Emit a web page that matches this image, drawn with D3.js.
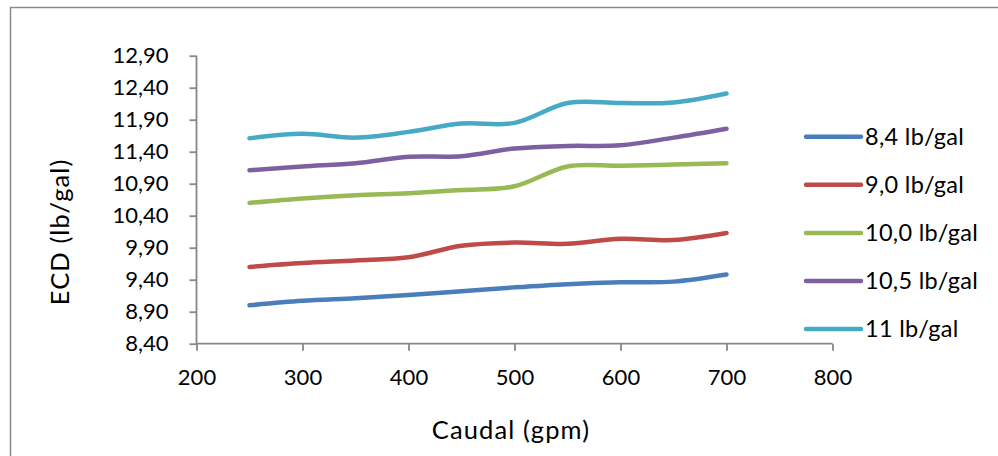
<!DOCTYPE html>
<html>
<head>
<meta charset="utf-8">
<script src="https://cdn.jsdelivr.net/npm/d3@7/dist/d3.min.js"></script>
<style>
  html, body { margin: 0; padding: 0; background: #fff; }
  svg { display: block; }
  text { font-family: Lato, "Open Sans", sans-serif; fill: #000; }
</style>
</head>
<body>
<svg id="chart" width="998" height="456"></svg>
<script>
// Flow rate (gpm) on the x axis
const caudal = [250, 300, 350, 400, 450, 500, 550, 600, 650, 700];

// Equivalent circulating density (lb/gal) per mud weight
const ecd84  = [9.00, 9.07, 9.11, 9.16, 9.22, 9.28, 9.33, 9.36, 9.37, 9.48];
const ecd90  = [9.60, 9.66, 9.70, 9.75, 9.93, 9.98, 9.96, 10.04, 10.02, 10.13];
const ecd100 = [10.60, 10.67, 10.72, 10.75, 10.80, 10.86, 11.17, 11.18, 11.20, 11.22];
const ecd105 = [11.11, 11.17, 11.22, 11.32, 11.33, 11.45, 11.49, 11.50, 11.62, 11.76];
const ecd110 = [11.61, 11.68, 11.62, 11.71, 11.84, 11.85, 12.16, 12.16, 12.17, 12.31];

const seriesNames = ["8,4 lb/gal", "9,0 lb/gal", "10,0 lb/gal", "10,5 lb/gal", "11 lb/gal"];
const seriesValues = [ecd84, ecd90, ecd100, ecd105, ecd110];
const seriesColors = ["#4A7EBB", "#BE4B48", "#98B954", "#7D60A0", "#46AAC5"];

const xTicks = [200, 300, 400, 500, 600, 700, 800];
const yTicks = [8.40, 8.90, 9.40, 9.90, 10.40, 10.90, 11.40, 11.90, 12.40, 12.90];

const xTitle = "Caudal (gpm)";
const yTitle = "ECD (lb/gal)";

const svg = d3.select("#chart");

// chart frame (only top and left edges fall inside the view)
svg.append("path")
  .attr("d", "M10.5,456 V7.5 H998")
  .attr("fill", "none")
  .attr("stroke", "#8a8a8a")
  .attr("stroke-width", 1.5);

const x = d3.scaleLinear().domain([200, 800]).range([196.5, 832.5]);
const y = d3.scaleLinear().domain([8.4, 12.9]).range([343.7, 55.7]);

const fmt = v => d3.format(".2f")(v).replace(".", ",");
const axisColor = "#878787";

// y axis
const gy = svg.append("g")
  .attr("transform", `translate(${x(200)},0)`)
  .call(d3.axisLeft(y).tickValues(yTicks).tickFormat(fmt).tickSize(7).tickPadding(21));
// x axis
const gx = svg.append("g")
  .attr("transform", `translate(0,${y(8.4)})`)
  .call(d3.axisBottom(x).tickValues(xTicks).tickFormat(d3.format("d")).tickSize(7).tickPadding(19));

[gx, gy].forEach(g => {
  g.select(".domain").attr("stroke", axisColor).attr("stroke-width", 1.8);
  g.selectAll(".tick line").attr("stroke", axisColor).attr("stroke-width", 1.8);
  g.selectAll(".tick text")
    .attr("font-family", "Lato, 'Open Sans', sans-serif")
    .attr("font-size", 22)
    .attr("fill", "#000");
});
gx.select(".domain").attr("d", `M${x(200)},0H${x(800)}`);
gy.select(".domain").attr("d", `M0,${y(12.9)}V${y(8.4)}`);

// axis titles
svg.append("text")
  .attr("x", 511).attr("y", 439)
  .attr("text-anchor", "middle")
  .attr("font-size", 25.5)
  .attr("letter-spacing", 1.1)
  .text(xTitle);

svg.append("text")
  .attr("transform", "translate(69,232) rotate(-90)")
  .attr("text-anchor", "middle")
  .attr("font-size", 25.5)
  .attr("letter-spacing", 1.1)
  .text(yTitle);

// smoothed series lines
const line = d3.line()
  .x((d, i) => x(caudal[i]))
  .y(d => y(d))
  .curve(d3.curveCardinal.tension(0));

svg.append("g").selectAll("path")
  .data(seriesValues)
  .join("path")
  .attr("d", line)
  .attr("fill", "none")
  .attr("stroke", (d, i) => seriesColors[i])
  .attr("stroke-width", 4.5)
  .attr("stroke-linecap", "round")
  .attr("stroke-linejoin", "round");

// legend
const legend = svg.append("g");
const rows = legend.selectAll("g")
  .data(seriesNames)
  .join("g")
  .attr("transform", (d, i) => `translate(806,${136.7 + i * 48.1})`);
rows.append("line")
  .attr("x1", 0).attr("x2", 55)
  .attr("stroke", (d, i) => seriesColors[i])
  .attr("stroke-width", 4.5)
  .attr("stroke-linecap", "round");
rows.append("text")
  .attr("x", 59).attr("y", 8)
  .attr("font-size", 23.5)
  .attr("letter-spacing", 0.3)
  .text(d => d);
</script>
</body>
</html>
